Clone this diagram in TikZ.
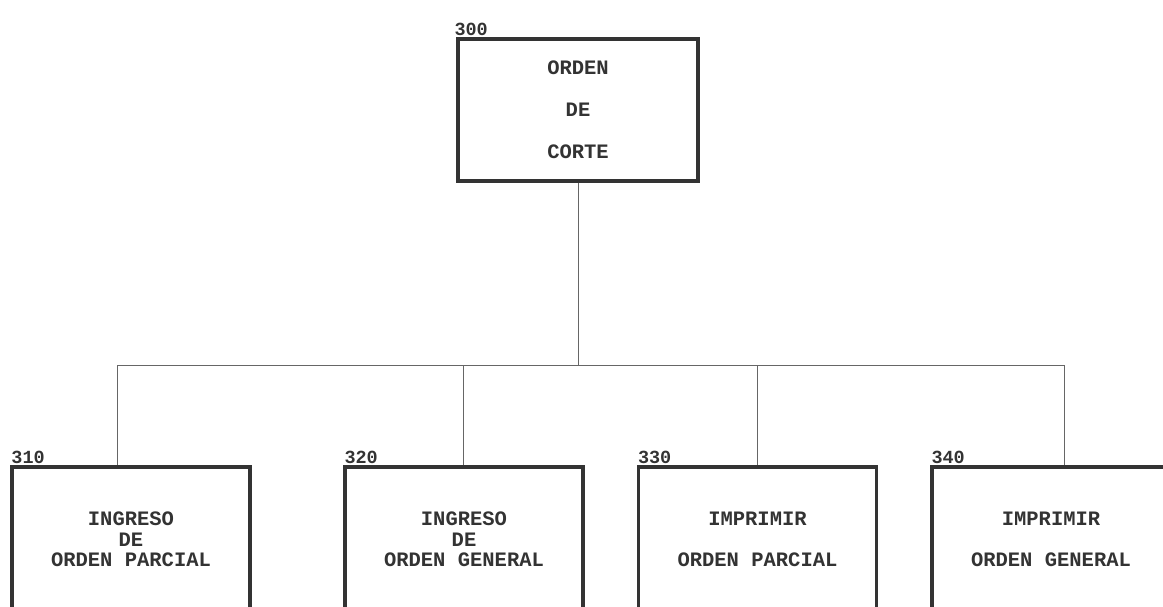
\documentclass[tikz,border=0pt]{standalone}
\usepackage{fontspec}
\setmonofont{Liberation Mono}
\begin{document}
\begin{tikzpicture}[x=1pt, y=-1pt,
  caja/.style={draw=black!80, line width=3.4pt, rectangle, align=center,
    minimum width=238pt, minimum height=145pt, inner sep=0pt,
    text=black!80, font=\ttfamily\bfseries\fontsize{20.5}{20.5}\selectfont},
  numero/.style={anchor=south west, inner sep=1pt, text=black!80,
    font=\ttfamily\bfseries\fontsize{18.5}{18.5}\selectfont},
  rama/.style={draw=black!60, line width=0.8pt}]
\useasboundingbox (0,0) rectangle (1163,607);
\clip (0,0) rectangle (1163,607);
% modulo principal
\node[caja, minimum width=240pt, minimum height=142pt,
  font=\ttfamily\bfseries\fontsize{20.5}{42}\selectfont,
  label={[numero, xshift=-3pt]north west:300}] (p300) at (578,110) {ORDEN\\DE\\CORTE};
% submodulos
\node[caja, label={[numero]north west:310}] (p310) at (131,539.5) {INGRESO\\DE\\ORDEN PARCIAL};
\node[caja, label={[numero]north west:320}] (p320) at (464,539.5) {INGRESO\\DE\\ORDEN GENERAL};
\node[caja, font=\ttfamily\bfseries\fontsize{20.5}{41}\selectfont,
  label={[numero]north west:330}] (p330) at (757.5,539.5) {IMPRIMIR\\ORDEN PARCIAL};
\node[caja, font=\ttfamily\bfseries\fontsize{20.5}{41}\selectfont,
  label={[numero]north west:340}] (p340) at (1051,539.5) {IMPRIMIR\\ORDEN GENERAL};
% conectores
\coordinate (centro) at (578,365);
\coordinate (b1) at (117,365);
\coordinate (b2) at (463,365);
\coordinate (b3) at (757,365);
\coordinate (b4) at (1064,365);
\draw[rama] (p300.south) -- (centro);
\draw[rama] (b1) -- (b4);
\foreach \b/\p in {b1/p310,b2/p320,b3/p330,b4/p340}
  \draw[rama] (\b) -- (\b |- \p.north);
\end{tikzpicture}
\end{document}
